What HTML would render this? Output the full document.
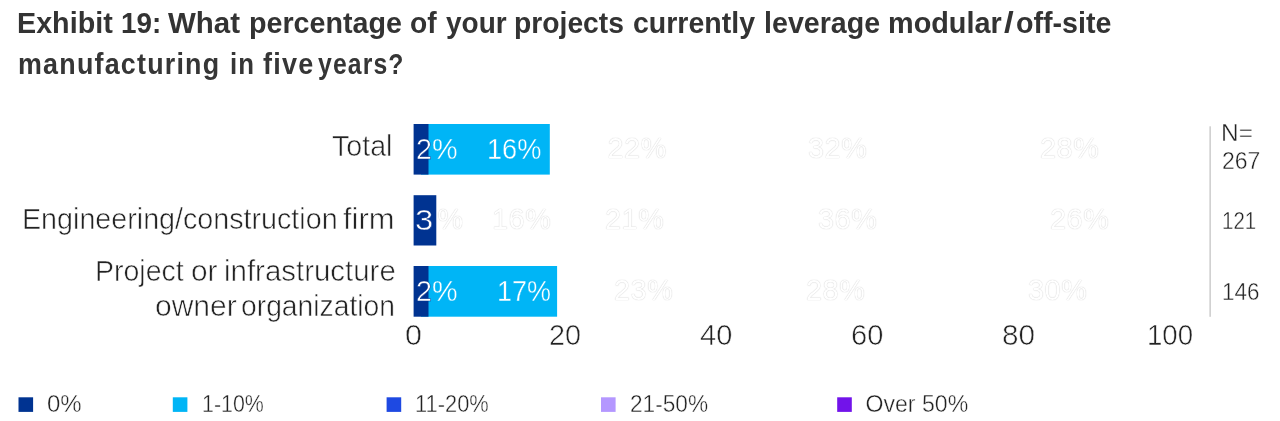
<!DOCTYPE html>
<html lang="en">
<head>
<meta charset="utf-8">
<title>Exhibit 19</title>
<style>
  html, body { margin:0; padding:0; background:#ffffff; }
  body { width:1280px; height:421px; position:relative; overflow:hidden;
         font-family:"Liberation Sans", sans-serif; color:#222; }
  .abs { position:absolute; white-space:nowrap; line-height:1; transform-origin:0 50%; }
  .t1 { font-size:28.6px; font-weight:bold;color:#333; }
  .t2 { font-size:28.8px; font-weight:bold;color:#363636;letter-spacing:1.3px; }
  .lbl { font-size:30.0px; color:#222;-webkit-text-stroke:0.6px #fff; }
  .ax { font-size:29.8px; color:#222;-webkit-text-stroke:0.6px #fff; }
  .n { font-size:23.2px; color:#222;-webkit-text-stroke:0.4px #fff; }
  .lg { font-size:23.1px; color:#222;-webkit-text-stroke:0.4px #fff; }
  .val { font-size:28.8px; color:#fff; }
  .gh { font-size:28.8px; color:#fff;text-shadow:0 0 1px #b8b8b8;letter-spacing:0.6px; }
  .sd { -webkit-text-stroke:0.5px #003391; }
  .sl { -webkit-text-stroke:0.4px #00b5f6; }
</style>
</head>
<body>
  <!-- title -->
  <h1 style="margin:0;font-size:inherit;font-weight:inherit;">
  <span class="abs t1" style="left:17.39px; top:8.84px; transform:scaleX(1.0043);">Exhibit</span>
  <span class="abs t1" style="left:120.55px; top:8.84px; transform:scaleX(0.9730);">19:</span>
  <span class="abs t1" style="left:167.80px; top:8.84px; transform:scaleX(1.0314);">What</span>
  <span class="abs t1" style="left:248.59px; top:8.84px; transform:scaleX(1.0027);">percentage</span>
  <span class="abs t1" style="left:410.26px; top:8.84px; transform:scaleX(0.9865);">of</span>
  <span class="abs t1" style="left:445.60px; top:8.84px; transform:scaleX(0.9782);">your</span>
  <span class="abs t1" style="left:514.27px; top:8.84px; transform:scaleX(0.9884);">projects</span>
  <span class="abs t1" style="left:632.75px; top:8.84px; transform:scaleX(0.9971);">currently</span>
  <span class="abs t1" style="left:763.60px; top:8.84px; transform:scaleX(1.0013);">leverage</span>
  <span class="abs t1" style="left:887.98px; top:8.84px; transform:scaleX(1.0081);">modular</span><span class="abs t1" style="left:1003.80px; top:8.84px; transform:scaleX(1.2250);">/</span><span class="abs t1" style="left:1015.90px; top:8.84px; transform:scaleX(1.0011);">off-site</span>
  <span class="abs t2" style="left:17.53px; top:49.67px; transform:scaleX(0.9330);">manufacturing</span>
  <span class="abs t2" style="left:229.71px; top:49.67px; transform:scaleX(0.8957);">in</span>
  <span class="abs t2" style="left:263.30px; top:49.67px; transform:scaleX(0.9385);">five</span>
  <span class="abs t2" style="left:318.30px; top:49.67px; transform:scaleX(0.8592);">years?</span>
  </h1>

  <!-- category labels -->
  <span class="abs lbl" style="left:331.85px; top:130.66px; transform:scaleX(0.9533);">Total</span>
  <span class="abs lbl" style="left:21.53px; top:203.66px; transform:scaleX(0.9557);">Engineering/construction</span>
  <span class="abs lbl" style="left:342.97px; top:203.66px; transform:scaleX(1.0319);">firm</span>
  <span class="abs lbl" style="left:95.15px; top:255.66px; transform:scaleX(0.9500);">Project</span>
  <span class="abs lbl" style="left:190.62px; top:255.66px; transform:scaleX(0.9917);">or</span>
  <span class="abs lbl" style="left:223.54px; top:255.66px; transform:scaleX(0.9813);">infrastructure</span>
  <span class="abs lbl" style="left:155.00px; top:290.66px; transform:scaleX(1.0000);">owner</span>
  <span class="abs lbl" style="left:241.12px; top:290.66px; transform:scaleX(0.9421);">organization</span>

  <!-- bars, N separator and legend swatches -->
  <svg width="1280" height="421" viewBox="0 0 1280 421" style="position:absolute;left:0;top:0;">
    <rect x="421" y="124" width="128.8" height="50.6" fill="#00b5f6"/>
    <rect x="413.6" y="124" width="14.9" height="50.6" fill="#003391"/>
    <rect x="413.6" y="195.2" width="22.7" height="50.3" fill="#003391"/>
    <rect x="421" y="266" width="136.1" height="50.7" fill="#00b5f6"/>
    <rect x="413.6" y="266" width="14.9" height="50.7" fill="#003391"/>
    <rect x="1209.4" y="126.3" width="1.5" height="190.5" fill="#cccccc"/>
    <rect x="18.5" y="397.3" width="14.6" height="14.6" fill="#003391"/>
    <rect x="172.8" y="397.3" width="14.6" height="14.6" fill="#00b5f6"/>
    <rect x="386.6" y="397.3" width="14.6" height="14.6" fill="#1e49e2"/>
    <rect x="601" y="397.3" width="14.6" height="14.6" fill="#b497ff"/>
    <rect x="837.2" y="397.3" width="14.6" height="14.6" fill="#7213ea"/>
  </svg>

  <!-- hidden (white) value labels of the remaining series -->
  <span class="abs gh" style="left:437.5px; top:204.67px;">%</span>
  <span class="abs gh" style="left:492px; top:204.67px;">16%</span>
  <span class="abs gh" style="left:607.5px; top:134.27px;">22%</span>
  <span class="abs gh" style="left:808px; top:134.27px;">32%</span>
  <span class="abs gh" style="left:1040px; top:134.27px;">28%</span>
  <span class="abs gh" style="left:605px; top:204.67px;">21%</span>
  <span class="abs gh" style="left:818px; top:204.67px;">36%</span>
  <span class="abs gh" style="left:1050px; top:204.67px;">26%</span>
  <span class="abs gh" style="left:614px; top:276.27px;">23%</span>
  <span class="abs gh" style="left:806px; top:276.27px;">28%</span>
  <span class="abs gh" style="left:1028px; top:276.27px;">30%</span>

  <!-- visible value labels -->
  <span class="abs val" style="left:416.00px; top:134.67px; transform:scaleX(1.0000);"><span class="sd">2</span><span class="sl">%</span></span>
  <span class="abs val" style="left:487.21px; top:134.67px; transform:scaleX(0.9444);"><span class="sl">16%</span></span>
  <span class="abs val" style="left:414.82px; top:205.67px; transform:scaleX(1.1417);"><span class="sd">3</span></span>
  <span class="abs val" style="left:416.00px; top:276.67px; transform:scaleX(1.0000);"><span class="sd">2</span><span class="sl">%</span></span>
  <span class="abs val" style="left:497.23px; top:276.67px; transform:scaleX(0.9370);"><span class="sl">17%</span></span>

  <!-- x axis -->
  <span class="abs ax" style="left:405.45px; top:319.82px; transform:scaleX(1.0231);">0</span>
  <span class="abs ax" style="left:548.57px; top:319.82px; transform:scaleX(0.9667);">20</span>
  <span class="abs ax" style="left:700.03px; top:319.82px; transform:scaleX(0.9742);">40</span>
  <span class="abs ax" style="left:850.75px; top:319.82px; transform:scaleX(0.9767);">60</span>
  <span class="abs ax" style="left:1001.71px; top:319.82px; transform:scaleX(0.9967);">80</span>
  <span class="abs ax" style="left:1146.52px; top:319.82px; transform:scaleX(0.9267);">100</span>

  <!-- N column -->
  <span class="abs n" style="left:1221.19px; top:122.41px; transform:scaleX(1.0556);">N=</span>
  <span class="abs n" style="left:1221.51px; top:150.41px; transform:scaleX(0.9917);">267</span>
  <span class="abs n" style="left:1222.23px; top:210.41px; transform:scaleX(0.8829);">121</span>
  <span class="abs n" style="left:1222.27px; top:281.41px; transform:scaleX(0.9657);">146</span>

  <!-- legend -->
  <span class="abs lg" style="left:47.21px; top:392.50px; transform:scaleX(1.0403);">0%</span>
  <span class="abs lg" style="left:201.90px; top:392.50px; transform:scaleX(0.9258);">1-10%</span>
  <span class="abs lg" style="left:414.61px; top:392.50px; transform:scaleX(0.9467);">11-20%</span>
  <span class="abs lg" style="left:630.02px; top:392.50px; transform:scaleX(0.9805);">21-50%</span>
  <span class="abs lg" style="left:865.50px; top:392.50px; transform:scaleX(1.0000);">Over 50%</span>
</body>
</html>
